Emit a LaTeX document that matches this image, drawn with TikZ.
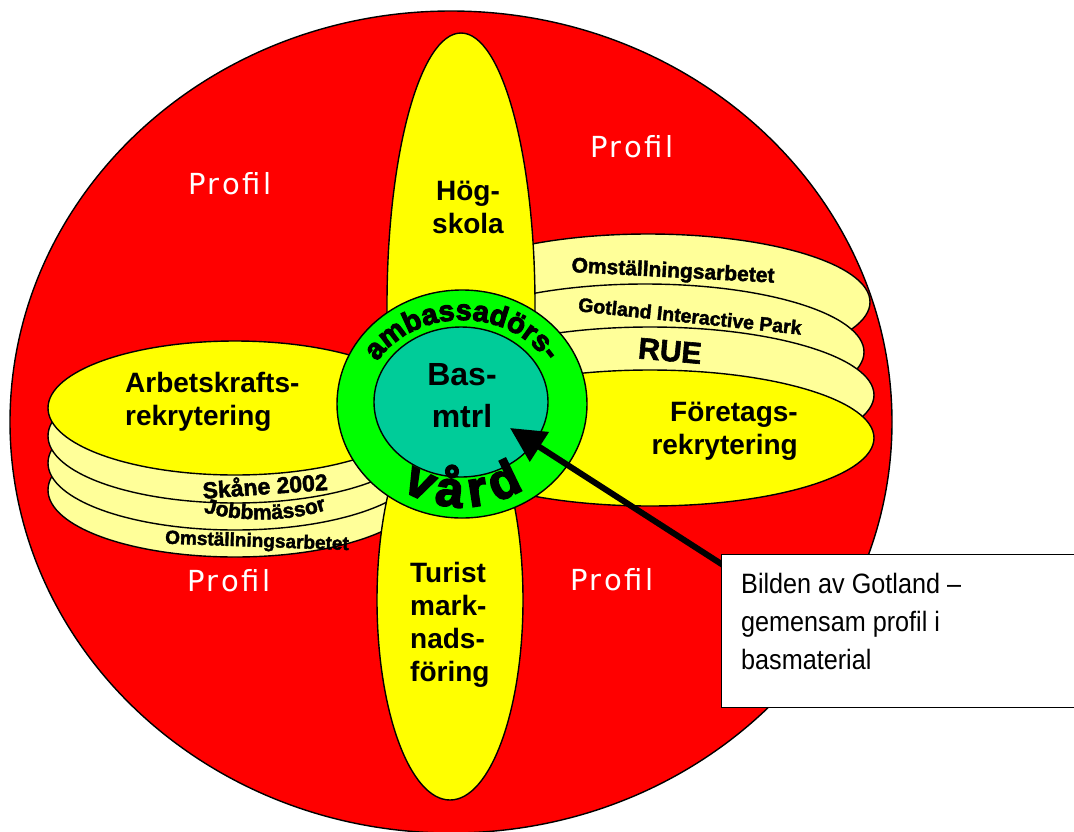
\documentclass[tikz,border=0pt]{standalone}
\usepackage{fontspec}
\setmainfont{Liberation Sans}
\newfontfamily\heavyf[BoldFeatures={FakeBold=2}]{Liberation Sans}
\newfontfamily\blackf[BoldFeatures={FakeBold=3.5}]{Liberation Sans}
\newfontfamily\narrowf[FakeStretch=0.9]{Liberation Sans}
\newfontfamily\proff[LetterSpace=10]{DejaVu Sans}
\usetikzlibrary{arrows.meta,decorations.text,calc}
\definecolor{redc}{HTML}{FF0000}
\definecolor{yel}{HTML}{FFFF00}
\definecolor{paleyel}{HTML}{FFFF99}
\definecolor{grn}{HTML}{00FF00}
\definecolor{tealc}{HTML}{00CC99}
\newcommand\ambfont{\blackf\bfseries\fontsize{29}{29}\selectfont}
\newcommand\vardfont{\blackf\bfseries\fontsize{50}{50}\selectfont}
\newcommand\jobfont{\heavyf\bfseries\fontsize{21}{21}\selectfont}
\tikzset{
  outl/.style={draw=black, line width=1.4pt},
  lbl/.style={font=\bfseries\fontsize{28}{33}\selectfont, inner sep=0pt},
  cen/.style={font=\bfseries\fontsize{32}{42}\selectfont, inner sep=0pt},
  prof/.style={text=white, font=\proff\fontsize{29}{30}\selectfont, inner sep=0pt, anchor=base},
  wart/.style={font=\heavyf\bfseries\fontsize{#1}{#1}\selectfont, inner sep=0pt},
  callbox/.style={draw=black, line width=1.4pt, fill=white, minimum width=360pt, minimum height=153pt, inner sep=0pt, anchor=north west},
  calltext/.style={font=\narrowf\fontsize{28}{38}\selectfont, inner sep=0pt, align=left, anchor=base west},
  pointer/.style={line width=6pt, -{Triangle[length=35pt,width=34pt]}}
}
\begin{document}
\begin{tikzpicture}[x=1pt,y=-1pt]
\useasboundingbox (0,0) rectangle (1074,831);
\fill[white] (0,0) rectangle (1074,831);
% outer red disc
\draw[outl, fill=redc] (451,422) ellipse [x radius=441, y radius=411];
% right stack
\draw[outl, fill=paleyel] (648,302) ellipse [x radius=222, y radius=68];
\draw[outl, fill=paleyel] (645,352) ellipse [x radius=219, y radius=68];
\draw[outl, fill=paleyel] (650,395) ellipse [x radius=224, y radius=68];
\draw[outl, fill=yel] (650,438) ellipse [x radius=224, y radius=68];
% left stack
\draw[outl, fill=paleyel] (235,490) ellipse [x radius=187, y radius=67];
\draw[outl, fill=paleyel] (235,463) ellipse [x radius=187, y radius=67];
\draw[outl, fill=paleyel] (235,436) ellipse [x radius=187, y radius=67];
\draw[outl, fill=yel] (235,408) ellipse [x radius=187, y radius=67];
% petals
\draw[outl, fill=yel] (461,305) ellipse [x radius=74, y radius=272];
\draw[outl, fill=yel] (450,600) ellipse [x radius=73, y radius=200];
% ring and core
\draw[outl, fill=grn] (462,404) ellipse [x radius=125, y radius=114];
\draw[outl, fill=tealc] (461,402) ellipse [x radius=87, y radius=75];

% ring texts
\path[decorate, decoration={text along path, text align=center, text={|\ambfont|ambassadörs-}}]
  ($(462,404)+(192:98 and 84)$) arc[start angle=192, end angle=348, x radius=98, y radius=84];
\path[decorate, decoration={text along path, text align=fit to path, text={|\vardfont|vård}}]
  ($(462,404)+(124:108 and 103)$) arc[start angle=124, end angle=55, x radius=108, y radius=103];

% main labels (anchor = baseline of last line)
\node[lbl, align=center, anchor=base] (hog) at (468,233) {Hög-\\skola};
\node[lbl, align=left, anchor=base west] (tur) at (410,681) {Turist\\mark-\\nads-\\föring};
\node[lbl, align=left, anchor=base west] (ark) at (125,425) {Arbetskrafts-\\rekrytering};
\node[lbl, align=right, anchor=base east] (for) at (798,454) {Företags-\\rekrytering};
\node[cen, align=center, anchor=base] (bas) at (462,427) {Bas-\\mtrl};

% stack labels
\node[wart=21, rotate=-3] (oms1) at (673,272) {Omställningsarbetet};
\node[wart=19.5, rotate=-6] (gip) at (690,316) {Gotland Interactive Park};
\node[wart=30, rotate=-5] (rue) at (670,351) {RUE};
\node[wart=23, rotate=4] (ska) at (265,485) {Skåne 2002};
\path[decorate, decoration={text along path, text align=center, text={|\jobfont|Jobbmässor}}]
  (196,510) .. controls (235,523) and (295,523) .. (334,507);
\node[wart=19, rotate=-2] (oms2) at (257,542) {Omställningsarbetet};

% profile labels
\node[prof] (p1) at (230,194) {Profil};
\node[prof] (p2) at (632,157) {Profil};
\node[prof] (p3) at (229,591) {Profil};
\node[prof] (p4) at (612,590) {Profil};

% callout
\coordinate (tip) at (510,428);
\coordinate (start) at (723,565);
\draw[pointer] (start) -- (tip);
\node[callbox] (callout) at (721,554) {};
\node[calltext] (ctext) at (741,669) {Bilden av Gotland –\\gemensam profil i\\basmaterial};
\end{tikzpicture}
\end{document}
